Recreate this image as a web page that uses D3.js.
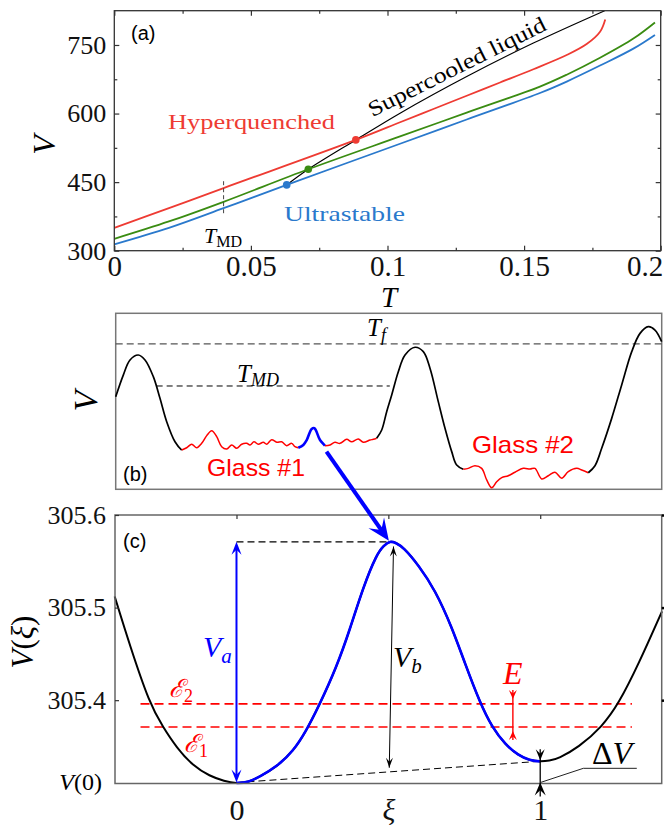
<!DOCTYPE html>
<meta charset="utf-8">
<style>
  body { margin: 0; background: #fff; }
  text { font-family: "Liberation Serif", serif; }
  .sans { font-family: "Liberation Sans", sans-serif; }
  .axis path { display: none; }
  .axis line { stroke: #333; stroke-width: 1.2; }
</style>
<svg width="664" height="827"></svg>
<script src="https://d3js.org/d3.v7.min.js"></script>
<script>
// ---------- panel (a): V(T) for three glasses + supercooled liquid ----------
var tLiquid = [0.0631, 0.071, 0.0884, 0.1046, 0.129, 0.1534, 0.1795];
var vLiquid = [443.9, 478.2, 542.4, 600.9, 681, 754.2, 825];
var tHyper = [0, 0.02, 0.04, 0.0884, 0.1046, 0.1168, 0.129, 0.1412, 0.1534, 0.1656, 0.1729, 0.1778, 0.1797];
var vHyper = [350, 393, 437, 542.4, 581, 610, 639, 668, 697, 728, 752, 779, 806];
var tMid = [0, 0.02, 0.04, 0.071, 0.1046, 0.129, 0.1558, 0.1656, 0.1778, 0.19, 0.1979];
var vMid = [326, 364, 407, 478.2, 550, 602, 659, 685, 722, 764, 799.3];
var tStable = [0, 0.02, 0.04, 0.0631, 0.1046, 0.129, 0.1558, 0.1656, 0.1778, 0.19, 0.1979];
var vStable = [314, 350, 393, 443.9, 534, 587, 645, 670, 705, 742, 772];
var tDots = [0.0884, 0.071, 0.0631];
var vDots = [542.4, 478.2, 443.9];
var tMD = 0.04, tMDrange = [382, 455];
var tTicks = [0, 0.05, 0.1, 0.15, 0.2], tTickLabels = ["0", "0.05", "0.1", "0.15", "0.2"];
var tMinor = [0.025, 0.075, 0.125, 0.175];
var vTicks = [300, 450, 600, 750], vMinor = [375, 525, 675];

// ---------- panel (b): schematic landscape (arbitrary units 0-100) ----------
var landBlack1 = [[0,52.6],[1.39,64.9],[2.62,73.5],[4.14,76.3],[5.37,73.5],[6.89,64.0],[8.11,51.7],[9.34,38.4],[10.86,27.0],[12.09,22.3]];
var landRed1 = [[12.09,22.3],[13.0,23.6],[13.92,25.6],[14.84,23.6],[15.75,26.1],[16.67,30.5],[17.58,33.3],[18.5,29.9],[19.41,24.2],[20.33,22.9],[21.25,25.2],[22.16,23.3],[23.08,25.6],[23.99,26.1],[24.6,25.2],[25.33,27.0],[26.12,25.6],[27.03,26.7],[27.66,25.6],[28.57,28.2],[29.49,26.7],[30.4,27.0],[31.32,24.8],[32.23,26.1],[32.84,24.2],[33.44,23.6]];
var landBlue = [[33.44,23.6],[34.36,25.2],[34.98,28.0],[35.9,34.3],[36.4,34.7],[37.42,28.0],[38.33,24.8]];
var landRed1b = [[38.33,24.8],[39.25,25.2],[40.16,26.7],[41.08,26.1],[42.31,28.4],[43.22,27.0],[44.43,28.6],[45.35,26.7],[46.58,28.0],[47.18,28.4],[47.8,29.0]];
var landBlack2 = [[47.8,29.0],[48.72,33.7],[49.63,44.1],[50.55,53.6],[51.76,66.8],[52.99,76.3],[54.82,80.7],[56.34,78.2],[57.56,68.8],[59.08,49.8],[60.31,34.7],[61.54,21.4],[62.45,13.8],[63.66,11.4]];
var landRed2 = [[63.66,11.4],[64.58,11.9],[65.8,13.4],[67.03,11.9],[67.95,5.3],[68.86,0.9],[69.78,4.3],[70.7,6.6],[71.9,7.7],[73.13,9.7],[74.65,11.9],[75.88,11.5],[76.79,11.9],[78.02,5.9],[79.23,7.7],[80.46,9.7],[81.68,6.3],[82.89,10.0],[84.43,11.9],[85.35,11.0],[86.56,9.4]];
var landBlack3 = [[86.56,9.4],[87.78,13.4],[89.01,23.3],[90.84,40.3],[92.67,59.3],[94.51,78.2],[96.03,88.6],[97.55,92.4],[98.77,90.5],[100,83.9]];
var levelTf = 82.6, levelTMD = 58.7, tmdSpan = [7.5, 50.2];
var arrowStartB = [38.6, 21.4];

// ---------- panel (c): V(xi) along the path (one curve, blue between the minima) ----------
var xiPath = [-0.401, -0.352, -0.286, -0.242, -0.198, -0.143, -0.088, -0.04, 0, 0.04,
  0.077, 0.132, 0.187, 0.228, 0.269, 0.330, 0.374, 0.417, 0.462, 0.485, 0.505, 0.525, 0.55,
  0.599, 0.654, 0.709, 0.753, 0.802, 0.841, 0.885, 0.928, 0.965, 1.0, 1.03,
  1.060, 1.126, 1.203, 1.258, 1.324, 1.401];
var vPath = [305.512, 305.460, 305.396, 305.371, 305.349, 305.329, 305.318, 305.3125, 305.310, 305.3115,
  305.3175, 305.328, 305.345, 305.366, 305.392, 305.436, 305.477, 305.522, 305.558, 305.567, 305.572, 305.570, 305.565,
  305.546, 305.519, 305.479, 305.439, 305.397, 305.371, 305.352, 305.3404, 305.335, 305.3335, 305.3345,
  305.337, 305.349, 305.371, 305.396, 305.439, 305.496];
var eps1 = 305.371, eps2 = 305.396, epsSpan = [-0.316, 1.302];
var vMin0 = 305.311, vMin1 = 305.334, vPeak = 305.571, xiPeak = 0.505;
var vTicksC = [305.4, 305.5, 305.6];
var xiTicks = [0, 0.5, 1], xiTickLabels = ["0", "ξ", "1"];

var svg = d3.select("svg");
var defs = svg.append("defs");
var cRed = "#ee3b33", cGreen = "#3a8c12", cBlue = "#2a79cc";
var serif = "'Liberation Serif', serif";

function head(g, tip, from, L, W, color) {
  var ang = Math.atan2(tip[1] - from[1], tip[0] - from[0]) * 180 / Math.PI;
  g.append("path")
    .attr("d", "M0,0 L" + (-L) + "," + (-W / 2) + " L" + (-0.6 * L) + ",0 L" + (-L) + "," + (W / 2) + " Z")
    .attr("transform", "translate(" + tip[0] + "," + tip[1] + ") rotate(" + ang + ")")
    .attr("fill", color);
}
function tickText(sel, size) {
  sel.attr("font-family", serif);
  sel.selectAll("text").attr("font-family", serif).style("font-family", serif).style("font-size", size).attr("fill", "#111");
}

// ================= panel (a) =================
var xA = d3.scaleLinear().domain([0, 0.2]).range([114.3, 660.7]);
var yA = d3.scaleLinear().domain([300, 825]).range([250.7, 10.7]);
var gA = svg.append("g");

defs.append("clipPath").attr("id", "clipA")
  .append("rect").attr("x", xA(0)).attr("y", yA(825)).attr("width", xA(0.2) - xA(0)).attr("height", yA(300) - yA(825));

var lineA = d3.line().x(function(d) { return xA(d[0]); }).y(function(d) { return yA(d[1]); }).curve(d3.curveCatmullRom.alpha(0.5));
var curvesA = gA.append("g").attr("clip-path", "url(#clipA)");
curvesA.append("path").datum(d3.zip(tLiquid, vLiquid)).attr("d", lineA).attr("fill", "none").attr("stroke", "#000").attr("stroke-width", 1.2);
curvesA.append("path").datum(d3.zip(tHyper, vHyper)).attr("d", lineA).attr("fill", "none").attr("stroke", cRed).attr("stroke-width", 1.8);
curvesA.append("path").datum(d3.zip(tMid, vMid)).attr("d", lineA).attr("fill", "none").attr("stroke", cGreen).attr("stroke-width", 1.8);
curvesA.append("path").datum(d3.zip(tStable, vStable)).attr("d", lineA).attr("fill", "none").attr("stroke", cBlue).attr("stroke-width", 1.8);
gA.selectAll(".dot").data(d3.zip(tDots, vDots)).enter().append("circle")
  .attr("cx", function(d) { return xA(d[0]); }).attr("cy", function(d) { return yA(d[1]); })
  .attr("r", 3.8).attr("fill", function(d, i) { return [cRed, cGreen, cBlue][i]; });

gA.append("line").attr("x1", xA(tMD)).attr("x2", xA(tMD)).attr("y1", yA(tMDrange[0])).attr("y2", yA(tMDrange[1]))
  .attr("stroke", "#444").attr("stroke-width", 1).attr("stroke-dasharray", "4,3");

// frame + ticks
gA.append("rect").attr("x", xA(0)).attr("y", yA(825)).attr("width", xA(0.2) - xA(0)).attr("height", yA(300) - yA(825))
  .attr("fill", "none").attr("stroke", "#333").attr("stroke-width", 1.3);
var axB = gA.append("g").attr("class", "axis").attr("transform", "translate(0," + yA(300) + ")")
  .call(d3.axisBottom(xA).tickValues(tTicks).tickFormat(function(d, i) { return tTickLabels[i]; }).tickSize(-5).tickPadding(5));
tickText(axB, "29px");
axB.selectAll("text").filter(function(d) { return d === 0.2; }).attr("text-anchor", "end").attr("dx", 2);
gA.append("g").attr("class", "axis").attr("transform", "translate(0," + yA(300) + ")")
  .call(d3.axisBottom(xA).tickValues(tMinor).tickFormat("").tickSize(-3));
gA.append("g").attr("class", "axis").attr("transform", "translate(0," + yA(825) + ")")
  .call(d3.axisTop(xA).tickValues(tTicks).tickFormat("").tickSize(-5));
gA.append("g").attr("class", "axis").attr("transform", "translate(0," + yA(825) + ")")
  .call(d3.axisTop(xA).tickValues(tMinor).tickFormat("").tickSize(-3));
var axL = gA.append("g").attr("class", "axis").attr("transform", "translate(" + xA(0) + ",0)")
  .call(d3.axisLeft(yA).tickValues(vTicks).tickSize(-5).tickPadding(8));
tickText(axL, "26px");
gA.append("g").attr("class", "axis").attr("transform", "translate(" + xA(0) + ",0)")
  .call(d3.axisLeft(yA).tickValues(vMinor).tickFormat("").tickSize(-3));
gA.append("g").attr("class", "axis").attr("transform", "translate(" + xA(0.2) + ",0)")
  .call(d3.axisRight(yA).tickValues(vTicks).tickFormat("").tickSize(-5));
gA.append("g").attr("class", "axis").attr("transform", "translate(" + xA(0.2) + ",0)")
  .call(d3.axisRight(yA).tickValues(vMinor).tickFormat("").tickSize(-3));

// labels
gA.append("text").attr("class", "sans").attr("x", 131).attr("y", 40).style("font-size", "20px").text("(a)");
gA.append("text").attr("x", 168).attr("y", 129).attr("fill", cRed).style("font-size", "22px")
  .attr("textLength", 167).attr("lengthAdjust", "spacingAndGlyphs").text("Hyperquenched");
gA.append("text").attr("x", 284).attr("y", 221).attr("fill", cBlue).style("font-size", "22px")
  .attr("textLength", 121).attr("lengthAdjust", "spacingAndGlyphs").text("Ultrastable");
var tmdA = gA.append("text").attr("x", 204).attr("y", 243).style("font-size", "22px");
tmdA.append("tspan").style("font-style", "italic").text("T");
tmdA.append("tspan").attr("dy", 4).style("font-size", "16px").text("MD");
var ang = Math.atan2(yA(823.4) - yA(600.9), xA(0.179) - xA(0.1046)) * 180 / Math.PI;
gA.append("text").attr("transform", "translate(" + xA(0.0945) + "," + yA(592) + ") rotate(" + ang + ")")
  .style("font-size", "22px").attr("textLength", 196).attr("lengthAdjust", "spacingAndGlyphs").text("Supercooled liquid");
gA.append("text").attr("transform", "translate(55,145) rotate(-90)").attr("text-anchor", "middle")
  .style("font-size", "32px").style("font-style", "italic").text("V");
gA.append("text").attr("x", 389).attr("y", 307).attr("text-anchor", "middle")
  .style("font-size", "29px").style("font-style", "italic").text("T");

// ================= panel (b) =================
var xB = d3.scaleLinear().domain([0, 100]).range([115.7, 661.7]);
var yB = d3.scaleLinear().domain([0, 100]).range([489.3, 313.3]);
var gB = svg.append("g");
var lineB = d3.line().x(function(d) { return xB(d[0]); }).y(function(d) { return yB(d[1]); }).curve(d3.curveCatmullRom.alpha(0.5));

gB.append("rect").attr("x", xB(0)).attr("y", yB(100)).attr("width", xB(100) - xB(0)).attr("height", yB(0) - yB(100))
  .attr("fill", "none").attr("stroke", "#777").attr("stroke-width", 1.5);
gB.append("line").attr("x1", xB(0)).attr("x2", xB(100)).attr("y1", yB(levelTf)).attr("y2", yB(levelTf))
  .attr("stroke", "#555").attr("stroke-width", 1.3).attr("stroke-dasharray", "7,4");
gB.append("line").attr("x1", xB(tmdSpan[0])).attr("x2", xB(tmdSpan[1])).attr("y1", yB(levelTMD)).attr("y2", yB(levelTMD))
  .attr("stroke", "#000").attr("stroke-width", 1).attr("stroke-dasharray", "6,4");

[[landBlack1, "#000", 1.7], [landRed1, "#ff0000", 1.5], [landBlue, "#0000ff", 2.6], [landRed1b, "#ff0000", 1.5],
 [landBlack2, "#000", 1.7], [landRed2, "#ff0000", 1.5], [landBlack3, "#000", 1.7]].forEach(function(s) {
  gB.append("path").datum(s[0]).attr("d", lineB).attr("fill", "none").attr("stroke", s[1]).attr("stroke-width", s[2]);
});

var tf = gB.append("text").attr("x", 367).attr("y", 336).style("font-size", "25px").style("font-style", "italic");
tf.append("tspan").text("T");
tf.append("tspan").attr("dy", 5).style("font-size", "18px").text("f");
var tmdB = gB.append("text").attr("x", 237).attr("y", 382).style("font-size", "25px").style("font-style", "italic");
tmdB.append("tspan").text("T");
tmdB.append("tspan").attr("dy", 4).style("font-size", "18px").text("MD");
gB.append("text").attr("transform", "translate(97,401) rotate(-90)").attr("text-anchor", "middle")
  .style("font-size", "34px").style("font-style", "italic").text("V");
gB.append("text").attr("class", "sans").attr("x", 123).attr("y", 481).style("font-size", "20px").text("(b)");
gB.append("text").attr("class", "sans").attr("x", 207).attr("y", 476).attr("fill", "#ff0000").style("font-size", "24px")
  .attr("textLength", 98).attr("lengthAdjust", "spacingAndGlyphs").text("Glass #1");
gB.append("text").attr("class", "sans").attr("x", 472).attr("y", 453).attr("fill", "#ff0000").style("font-size", "24px")
  .attr("textLength", 102).attr("lengthAdjust", "spacingAndGlyphs").text("Glass #2");

// ================= panel (c) =================
var xC = d3.scaleLinear().domain([-0.4, 1.4]).range([115, 661.7]);
var yC = d3.scaleLinear().domain([305.31, 305.6]).range([783.5, 515]);
var gC = svg.append("g");
var lineC = d3.line().x(function(d) { return xC(d[0]); }).y(function(d) { return yC(d[1]); }).curve(d3.curveBasis);

// dashed guides
gC.append("line").attr("x1", xC(0)).attr("x2", xC(xiPeak)).attr("y1", yC(vPeak)).attr("y2", yC(vPeak))
  .attr("stroke", "#000").attr("stroke-width", 1.2).attr("stroke-dasharray", "7,4");
gC.append("line").attr("x1", xC(0)).attr("x2", xC(1)).attr("y1", yC(vMin0)).attr("y2", yC(vMin1))
  .attr("stroke", "#000").attr("stroke-width", 1).attr("stroke-dasharray", "7,4");
[eps1, eps2].forEach(function(e) {
  gC.append("line").attr("x1", xC(epsSpan[0])).attr("x2", xC(epsSpan[1])).attr("y1", yC(e)).attr("y2", yC(e))
    .attr("stroke", "#ff0000").attr("stroke-width", 1.6).attr("stroke-dasharray", "9,5");
});

// the whole path in black, then the part between the two minima in blue
var pathData = d3.zip(xiPath, vPath);
defs.append("clipPath").attr("id", "clipBlue").append("rect")
  .attr("x", xC(0)).attr("y", yC(305.6) - 5).attr("width", xC(1) - xC(0)).attr("height", yC(305.31) - yC(305.6) + 10);
gC.append("path").datum(pathData).attr("d", lineC).attr("fill", "none").attr("stroke", "#000").attr("stroke-width", 2);
gC.append("path").datum(pathData).attr("d", lineC).attr("clip-path", "url(#clipBlue)")
  .attr("fill", "none").attr("stroke", "#0000ff").attr("stroke-width", 2.6);

// frame + ticks
gC.append("rect").attr("x", xC(-0.4)).attr("y", yC(305.6)).attr("width", xC(1.4) - xC(-0.4)).attr("height", yC(305.31) - yC(305.6))
  .attr("fill", "none").attr("stroke", "#666").attr("stroke-width", 1.5);
var axCL = gC.append("g").attr("class", "axis").attr("transform", "translate(" + xC(-0.4) + ",0)")
  .call(d3.axisLeft(yC).tickValues(vTicksC).tickFormat(d3.format(".1f")).tickSize(-4).tickPadding(9));
tickText(axCL, "26px");
gC.append("g").attr("class", "axis").attr("transform", "translate(" + xC(1.4) + ",0)")
  .call(d3.axisRight(yC).tickValues(vTicksC).tickFormat("").tickSize(5))
  .selectAll("line").style("stroke", "#000").style("stroke-width", 2.5);
gC.append("g").attr("class", "axis").attr("transform", "translate(0," + yC(305.6) + ")")
  .call(d3.axisTop(xC).tickValues(xiTicks).tickFormat("").tickSize(-4));
var axCB = gC.append("g").attr("class", "axis").attr("transform", "translate(0," + yC(305.31) + ")")
  .call(d3.axisBottom(xC).tickValues(xiTicks).tickFormat(function(d, i) { return xiTickLabels[i]; }).tickSize(0).tickPadding(15));
tickText(axCB, "30px");
axCB.selectAll("text").style("font-style", function(d, i) { return i === 1 ? "italic" : "normal"; });
var v0 = gC.append("text").attr("x", 102).attr("y", yC(vMin0) + 7).attr("text-anchor", "end").style("font-size", "24px");
v0.append("tspan").style("font-style", "italic").text("V");
v0.append("tspan").text("(0)");
var vxi = gC.append("text").attr("transform", "translate(33,642) rotate(-90)").attr("text-anchor", "middle").style("font-size", "31px");
vxi.append("tspan").style("font-style", "italic").text("V");
vxi.append("tspan").text("(");
vxi.append("tspan").style("font-style", "italic").text("ξ");
vxi.append("tspan").text(")");

// V_a arrow
var pa0 = [xC(0), yC(vMin0)], pa1 = [xC(0), yC(vPeak)];
gC.append("line").attr("x1", pa0[0]).attr("y1", pa0[1] - 6).attr("x2", pa1[0]).attr("y2", pa1[1] + 6).attr("stroke", "#0000ff").attr("stroke-width", 2);
head(gC, pa0, pa1, 13, 10, "#0000ff");
head(gC, pa1, pa0, 13, 10, "#0000ff");
var va = gC.append("text").attr("x", 203).attr("y", 657).attr("fill", "#0000ff").style("font-size", "30px").style("font-style", "italic");
va.append("tspan").text("V");
va.append("tspan").attr("dy", 6).style("font-size", "21px").text("a");

// V_b arrow
var pb1 = [xC(0.517), yC(305.566)], pb0 = [xC(0.503), yC(305.327)];
gC.append("line").attr("x1", pb0[0]).attr("y1", pb0[1]).attr("x2", pb1[0]).attr("y2", pb1[1]).attr("stroke", "#000").attr("stroke-width", 1);
head(gC, pb0, pb1, 10, 7, "#000");
head(gC, pb1, pb0, 10, 7, "#000");
var vb = gC.append("text").attr("x", 393).attr("y", 667).style("font-size", "30px").style("font-style", "italic");
vb.append("tspan").text("V");
vb.append("tspan").attr("dy", 6).style("font-size", "21px").text("b");

// E arrows
var xE = xC(0.91);
gC.append("line").attr("x1", xE).attr("x2", xE).attr("y1", yC(eps2) - 14).attr("y2", yC(eps1) + 13).attr("stroke", "#ff0000").attr("stroke-width", 1.4);
head(gC, [xE, yC(eps2) - 5], [xE, yC(eps2) - 20], 9, 8, "#ff0000");
head(gC, [xE, yC(eps1) + 4], [xE, yC(eps1) + 20], 9, 8, "#ff0000");
gC.append("text").attr("x", xE - 10).attr("y", 684).attr("fill", "#ff0000").style("font-size", "32px").style("font-style", "italic").text("E");
var e2 = gC.append("text").attr("x", 169).attr("y", 697).attr("fill", "#ff0000").style("font-size", "25px");
e2.append("tspan").style("font-family", "DejaVu Serif").style("font-style", "italic").text("ℰ");
e2.append("tspan").attr("dy", 5).style("font-size", "18px").text("2");
var e1 = gC.append("text").attr("x", 184).attr("y", 752).attr("fill", "#ff0000").style("font-size", "25px");
e1.append("tspan").style("font-family", "DejaVu Serif").style("font-style", "italic").text("ℰ");
e1.append("tspan").attr("dy", 5).style("font-size", "18px").text("1");

// Delta V
var x1 = xC(1);
gC.append("line").attr("x1", x1).attr("x2", x1).attr("y1", yC(vMin1) - 12).attr("y2", yC(vMin0) + 14).attr("stroke", "#000").attr("stroke-width", 1.3);
head(gC, [x1, yC(vMin1) - 1], [x1, yC(vMin1) - 20], 11, 9, "#000");
head(gC, [x1, yC(vMin0)], [x1, yC(vMin0) + 20], 13, 11, "#000");
gC.append("path").datum([[1, vMin0], [1.142, 305.3264], [1.318, 305.3264]])
  .attr("d", d3.line().x(function(d) { return xC(d[0]); }).y(function(d) { return yC(d[1]); }))
  .attr("fill", "none").attr("stroke", "#222").attr("stroke-width", 1);
var dv = gC.append("text").attr("x", 592).attr("y", 764).style("font-size", "32px");
dv.append("tspan").text("Δ");
dv.append("tspan").style("font-style", "italic").text("V");
gC.append("text").attr("class", "sans").attr("x", 123).attr("y", 548).style("font-size", "20px").text("(c)");

// ================= big blue arrow from (b) to (c) =================
var pStart = [xB(arrowStartB[0]), yB(arrowStartB[1])], pTip = [xC(xiPeak) - 1, yC(vPeak) - 1];
var dx = pTip[0] - pStart[0], dy = pTip[1] - pStart[1], len = Math.sqrt(dx * dx + dy * dy);
svg.append("line").attr("x1", pStart[0]).attr("y1", pStart[1])
  .attr("x2", pTip[0] - dx / len * 12).attr("y2", pTip[1] - dy / len * 12)
  .attr("stroke", "#0000ff").attr("stroke-width", 4);
head(svg, pTip, pStart, 22, 19, "#0000ff");
</script>
